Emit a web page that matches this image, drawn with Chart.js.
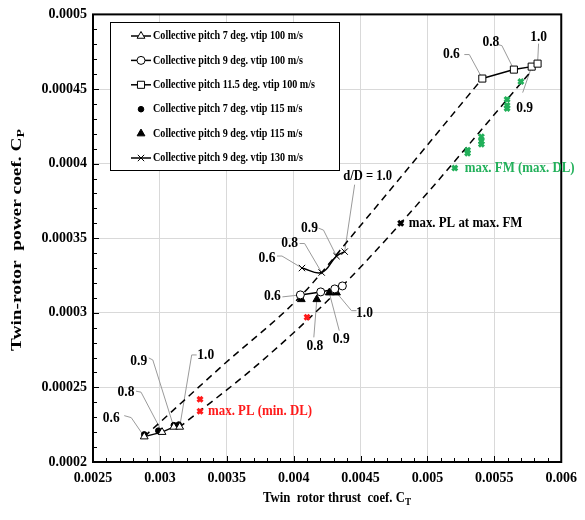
<!DOCTYPE html>
<html>
<head>
<meta charset="utf-8">
<script src="https://cdn.jsdelivr.net/npm/chart.js@4.4.0/dist/chart.umd.min.js"></script>
<style>
  body { margin: 0; background: #fff; }
  #wrap { width: 585px; height: 520px; }
</style>
</head>
<body>
<div id="wrap"><canvas id="chart" width="585" height="520"></canvas></div>
<script>
// ====================== DATA ======================
const xTicks = [0.0025, 0.003, 0.0035, 0.004, 0.0045, 0.005, 0.0055, 0.006];
const yTicks = [0.0002, 0.00025, 0.0003, 0.00035, 0.0004, 0.00045, 0.0005];

// points are d/D = 0.6, 0.8, 0.9, 1.0
const ct_7deg_100 = [0.002883, 0.003016, 0.003104, 0.003148];
const cp_7deg_100 = [0.000217, 0.00022, 0.0002235, 0.0002235];
const ct_9deg_100 = [0.00405, 0.004202, 0.004307, 0.004364];
const cp_9deg_100 = [0.000312, 0.000314, 0.000316, 0.000318];
const ct_115deg_100 = [0.00541, 0.005646, 0.005779, 0.005823];
const cp_115deg_100 = [0.000457, 0.000463, 0.000465, 0.000467];
const ct_7deg_115 = [0.002883, 0.002988, 0.003104, 0.003141];
const cp_7deg_115 = [0.0002185, 0.000221, 0.0002247, 0.0002251];
const ct_9deg_115 = [0.004057, 0.004173, 0.004266, 0.00432];
const cp_9deg_115 = [0.000309, 0.000309, 0.0003135, 0.0003135];
const ct_9deg_130 = [0.004062, 0.004209, 0.00432, 0.004381];
const cp_9deg_130 = [0.00033, 0.000327, 0.000338, 0.000341];

// dashed trend curves (d/D = 0.6 and d/D = 1.0)
const ct_trend06 = [0.002883, 0.003473, 0.00405, 0.004467, 0.00541];
const cp_trend06 = [0.000217, 0.000265, 0.000311, 0.000355, 0.000457];
const ct_trend10 = [0.003141, 0.003753, 0.00432, 0.0048, 0.005823];
const cp_trend10 = [0.000223, 0.000267, 0.000314, 0.00036, 0.000467];

// special operating points
const ct_maxPL = [0.0033, 0.0033, 0.0041];
const cp_maxPL = [0.000242, 0.000234, 0.000297];
const ct_maxFM = [0.005204, 0.0053, 0.0053, 0.005403, 0.005403, 0.005403, 0.005595, 0.005595, 0.005595, 0.005698];
const cp_maxFM = [0.000397, 0.000409, 0.000407, 0.000418, 0.000415, 0.000413, 0.000443, 0.000439, 0.000437, 0.000455];
const ct_maxPLatFM = [0.0048];
const cp_maxPLatFM = [0.00036];

// ====================== STYLE ======================
const SERIF = "'Liberation Serif', 'Times New Roman', serif";
const RED = "#ff1a1a";
const GREEN = "#22b05a";

function pts(xs, ys) {
    return xs.map((x, i) => ({ x: x, y: ys[i] }));
}

function fmt(v) {
    return String(+Number(v).toPrecision(6));
}

// text with horizontal squeeze, like the condensed Times in the original
function drawText(ctx, txt, x, y, size, color, align, sx) {
    ctx.save();
    ctx.font = "bold " + size + "px " + SERIF;
    ctx.fillStyle = color;
    ctx.textBaseline = "middle";
    ctx.textAlign = align;
    ctx.translate(x, y);
    ctx.scale(sx, 1);
    ctx.fillText(txt, 0, 0);
    ctx.restore();
}

// main text + subscript, centred on (0,0), squeezed to fit a target width
function drawSubTitle(ctx, main, sub, size, width) {
    ctx.save();
    ctx.font = "bold " + size + "px " + SERIF;
    const w1 = ctx.measureText(main).width;
    ctx.font = "bold " + (size * 0.72) + "px " + SERIF;
    const w2 = ctx.measureText(sub).width;
    ctx.scale(width / (w1 + w2), 1);
    const x0 = -(w1 + w2) / 2;
    ctx.fillStyle = "#000";
    ctx.textBaseline = "middle";
    ctx.textAlign = "left";
    ctx.font = "bold " + size + "px " + SERIF;
    ctx.fillText(main, x0, 0);
    ctx.font = "bold " + (size * 0.72) + "px " + SERIF;
    ctx.fillText(sub, x0 + w1, size * 0.28);
    ctx.restore();
}

// ====================== LABELS ======================
// anchor = [ctArray, cpArray, index]; offsets in px from the marker
const pointLabels = [
    { t: "0.6", a: [ct_7deg_100, cp_7deg_100, 0], txt: [-33, -19], path: [[-20, -21], [-13, -19]] },
    { t: "0.8", a: [ct_7deg_100, cp_7deg_100, 1], txt: [-36, -40], path: [[-26, -41], [-21, -40]] },
    { t: "0.9", a: [ct_7deg_100, cp_7deg_100, 2], txt: [-35, -66], path: [[-25, -69], [-21, -67]] },
    { t: "1.0", a: [ct_7deg_100, cp_7deg_100, 3], txt: [26, -72], path: [[17, -72], [12, -72]] },
    { t: "0.6", a: [ct_9deg_100, cp_9deg_100, 0], txt: [-28, 1], path: [[-18, 2]] },
    { t: "0.8", a: [ct_9deg_115, cp_9deg_115, 1], txt: [-2, 47], path: [[-3, 38]] },
    { t: "0.9", a: [ct_9deg_115, cp_9deg_115, 2], txt: [12, 46], path: [[10, 38]] },
    { t: "1.0", a: [ct_9deg_115, cp_9deg_115, 3], txt: [28, 20], path: [[20, 18], [15, 18]] },
    { t: "0.6", a: [ct_9deg_130, cp_9deg_130, 0], txt: [-35, -10], path: [[-25, -12], [-20, -12]] },
    { t: "0.8", a: [ct_9deg_130, cp_9deg_130, 1], txt: [-32, -29], path: [[-22, -29], [-17, -29]] },
    { t: "0.9", a: [ct_9deg_130, cp_9deg_130, 2], txt: [-27, -28], path: [[-18, -28], [-13, -26]] },
    { t: "d/D = 1.0", a: [ct_9deg_130, cp_9deg_130, 3], txt: [23, -75], path: [[10, -67]], size: 14 },
    { t: "0.6", a: [ct_115deg_100, cp_115deg_100, 0], txt: [-31, -24], path: [[-18, -24], [-13, -24]] },
    { t: "0.8", a: [ct_115deg_100, cp_115deg_100, 1], txt: [-23, -27], path: [[-16, -25], [-12, -24]] },
    { t: "1.0", a: [ct_115deg_100, cp_115deg_100, 3], txt: [1, -27], path: [[1, -20]] },
    { t: "0.9", a: [ct_115deg_100, cp_115deg_100, 2], txt: [-7, 42], path: [[-9, 26]] }
];

const noteLabels = [
    { t: "max. FM (max. DL)", a: [ct_maxFM, cp_maxFM, 0], dx: 10, color: GREEN },
    { t: "max. PL at max. FM", a: [ct_maxPLatFM, cp_maxPLatFM, 0], dx: 8, color: "#000" },
    { t: "max. PL (min. DL)", a: [ct_maxPL, cp_maxPL, 1], dx: 8, color: RED }
];

function anchorPx(chart, a) {
    return [chart.scales.x.getPixelForValue(a[0][a[2]]), chart.scales.y.getPixelForValue(a[1][a[2]])];
}

// ====================== PLUGINS ======================
const framePlugin = {
    id: "frame",
    beforeDatasetsDraw(chart) {
        const ctx = chart.ctx;
        const a = chart.chartArea;
        const xs = chart.scales.x, ys = chart.scales.y;
        ctx.save();
        ctx.strokeStyle = "#000";
        ctx.lineWidth = 1;
        // inside minor ticks
        for (let i = 0; i <= 35; i++) {
            const px = Math.round(xs.getPixelForValue(0.0025 + i * 0.0001)) + 0.5;
            const len = i % 5 === 0 ? 6 : 4;
            ctx.beginPath();
            ctx.moveTo(px, a.bottom);
            ctx.lineTo(px, a.bottom - len);
            ctx.stroke();
        }
        for (let i = 0; i <= 30; i++) {
            const py = Math.round(ys.getPixelForValue(0.0002 + i * 0.00001)) + 0.5;
            const len = i % 5 === 0 ? 6 : 4;
            ctx.beginPath();
            ctx.moveTo(a.left, py);
            ctx.lineTo(a.left + len, py);
            ctx.stroke();
        }
        ctx.lineWidth = 2;
        ctx.strokeRect(a.left, a.top, a.right - a.left, a.bottom - a.top);

        // leader lines
        ctx.strokeStyle = "#9a9a9a";
        ctx.lineWidth = 1;
        pointLabels.forEach(l => {
            const p = anchorPx(chart, l.a);
            ctx.beginPath();
            ctx.moveTo(p[0] + l.path[0][0], p[1] + l.path[0][1]);
            l.path.slice(1).forEach(q => ctx.lineTo(p[0] + q[0], p[1] + q[1]));
            ctx.lineTo(p[0], p[1]);
            ctx.stroke();
        });
        ctx.restore();
    },
    afterDatasetsDraw(chart) {
        const ctx = chart.ctx;
        pointLabels.forEach(l => {
            const p = anchorPx(chart, l.a);
            drawText(ctx, l.t, p[0] + l.txt[0], p[1] + l.txt[1], l.size || 15, "#000", "center", 0.9);
        });
        noteLabels.forEach(l => {
            const p = anchorPx(chart, l.a);
            drawText(ctx, l.t, p[0] + l.dx, p[1], 14, l.color, "left", 0.92);
        });
    },
    afterDraw(chart) {
        const ctx = chart.ctx;
        // legend box
        const box = { x: 110, y: 22, w: 229, h: 148 };
        ctx.save();
        ctx.fillStyle = "#fff";
        ctx.fillRect(box.x, box.y, box.w, box.h);
        ctx.strokeStyle = "#000";
        ctx.lineWidth = 1;
        ctx.strokeRect(box.x + 0.5, box.y + 0.5, box.w, box.h);
        ctx.font = "bold 12.5px " + SERIF;
        const longest = Math.max(...chart.data.datasets.slice(0, 6).map(d => ctx.measureText(d.label).width));
        const sx = 162 / longest;
        chart.data.datasets.slice(0, 6).forEach((d, i) => {
            const y = 36 + i * 24.4;
            if (d.showLine) {
                ctx.strokeStyle = "#000";
                ctx.lineWidth = 1.5;
                ctx.beginPath();
                ctx.moveTo(131, y);
                ctx.lineTo(151, y);
                ctx.stroke();
            }
            ctx.fillStyle = d.pointBackgroundColor;
            ctx.strokeStyle = d.pointBorderColor;
            ctx.lineWidth = d.pointBorderWidth;
            Chart.helpers.drawPoint(ctx, {
                pointStyle: d.pointStyle, radius: d.pointRadius, rotation: 0, borderWidth: d.pointBorderWidth
            }, 141, y);
            drawText(ctx, d.label, 153, y, 12.5, "#000", "left", sx);
        });
        ctx.restore();

        // axis titles
        ctx.save();
        ctx.translate(337, 498);
        drawSubTitle(ctx, "Twin  rotor thrust  coef. C", "T", 14, 148);
        ctx.restore();
        ctx.save();
        ctx.translate(17, 240);
        ctx.rotate(-Math.PI / 2);
        drawSubTitle(ctx, "Twin-rotor  power coef. C", "P", 14.5, 222);
        ctx.restore();
    }
};

// ====================== CHART ======================
function series(label, xs, ys, style, extra) {
    return Object.assign({
        label: label,
        data: pts(xs, ys),
        pointStyle: style,
        pointRadius: 3.5,
        pointBackgroundColor: "#fff",
        pointBorderColor: "#000",
        pointBorderWidth: 1,
        borderColor: "#000",
        borderWidth: 1.5,
        showLine: true,
        tension: 0
    }, extra || {});
}

const datasets = [
    series("Collective pitch 7 deg. vtip 100 m/s", ct_7deg_100, cp_7deg_100, "triangle", { pointRadius: 4.5 }),
    series("Collective pitch 9 deg. vtip 100 m/s", ct_9deg_100, cp_9deg_100, "circle", { pointRadius: 4 }),
    series("Collective pitch 11.5 deg. vtip 100 m/s", ct_115deg_100, cp_115deg_100, "rect", { pointRadius: 5 }),
    series("Collective pitch 7 deg. vtip 115 m/s", ct_7deg_115, cp_7deg_115, "circle", { pointRadius: 2.8, pointBackgroundColor: "#000", showLine: false }),
    series("Collective pitch 9 deg. vtip 115 m/s", ct_9deg_115, cp_9deg_115, "triangle", { pointRadius: 4.5, pointBackgroundColor: "#000", showLine: false }),
    series("Collective pitch 9 deg. vtip 130 m/s", ct_9deg_130, cp_9deg_130, "crossRot", { pointRadius: 4.5, tension: 0.4 }),
    series("max. PL", ct_maxPL, cp_maxPL, "crossRot", { pointRadius: 3.5, pointBorderColor: RED, pointBorderWidth: 3, showLine: false }),
    series("max. FM", ct_maxFM, cp_maxFM, "crossRot", { pointRadius: 3.5, pointBorderColor: GREEN, pointBorderWidth: 3, showLine: false }),
    series("max. PL at max. FM", ct_maxPLatFM, cp_maxPLatFM, "crossRot", { pointRadius: 3.5, pointBorderWidth: 3, showLine: false }),
    series("trend 0.6", ct_trend06, cp_trend06, "circle", { pointRadius: 0, borderDash: [7, 5], cubicInterpolationMode: "monotone" }),
    series("trend 1.0", ct_trend10, cp_trend10, "circle", { pointRadius: 0, borderDash: [7, 5], cubicInterpolationMode: "monotone" })
];

const tickFont = { family: SERIF, size: 14, weight: "bold" };

new Chart(document.getElementById("chart").getContext("2d"), {
    type: "scatter",
    data: { datasets: datasets },
    options: {
        responsive: false,
        animation: false,
        layout: { padding: { top: 14, right: 17, left: 0, bottom: 0 } },
        plugins: {
            legend: { display: false },
            tooltip: { enabled: false }
        },
        scales: {
            x: {
                type: "linear",
                min: 0.0025,
                max: 0.006,
                afterBuildTicks: s => { s.ticks = xTicks.map(v => ({ value: v })); },
                afterFit: s => { s.height = 58; },
                grid: { color: "#d9d9d9", drawTicks: false },
                border: { display: false },
                ticks: { padding: 8, color: "#000", font: tickFont, callback: v => fmt(v), maxRotation: 0, autoSkip: false }
            },
            y: {
                type: "linear",
                min: 0.0002,
                max: 0.0005,
                afterBuildTicks: s => { s.ticks = yTicks.map(v => ({ value: v })); },
                afterFit: s => { s.width = 93; },
                grid: { color: "#d9d9d9", drawTicks: false },
                border: { display: false },
                ticks: { padding: 6, color: "#000", font: tickFont, callback: v => fmt(v), autoSkip: false }
            }
        }
    },
    plugins: [framePlugin]
});
</script>
</body>
</html>
